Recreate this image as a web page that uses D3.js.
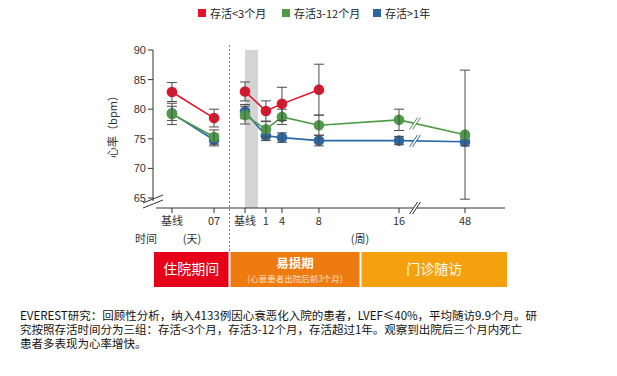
<!DOCTYPE html>
<html>
<head>
<meta charset="utf-8">
<script src="https://cdn.jsdelivr.net/npm/d3@7"></script>
<style>
  body { margin: 0; background: #fff; }
  svg { display: block; font-family: "Noto Sans CJK SC", "Noto Sans", sans-serif; }
</style>
</head>
<body>
<svg id="chart" width="617" height="376"></svg>
<script>
// ── Data ──────────────────────────────────────────────────────────────────────
const dayLabels  = ['基线', '07'];
const weekTicks  = [0, 1, 4, 8, 16, 48];
const weekLabels = ['基线', '1', '4', '8', '16', '48'];
const yTicks     = [65, 70, 75, 80, 85, 90];

// hospital stay (days)
const redDay    = [82.9, 78.5];   const redDayErr   = [1.6, 1.5];
const greenDay  = [79.2, 75.3];   const greenDayErr = [1.8, 1.2];
const blueDay   = [79.3, 74.8];   const blueDayErr  = [1.2, 1.0];

// follow-up (weeks)
const redWeek   = [83.0, 79.7, 80.9, 83.3];
const redWeekErr   = [1.6, 1.7, 2.8, 4.3];
const greenWeek = [79.0, 76.6, 78.7, 77.3, 78.2, 75.7];
const greenWeekErr = [1.5, 1.3, 1.3, 1.7, 1.8, 10.9];
const blueWeek  = [79.6, 75.5, 75.2, 74.7, 74.7, 74.5];
const blueWeekErr  = [1.2, 0.8, 0.8, 0.9, 0.7, 0.7];

const seriesNames = ['存活<3个月', '存活3-12个月', '存活>1年'];
const phaseNames  = ['住院期间', '易损期', '门诊随访'];
const phaseSub    = '(心衰患者出院后前3个月)';
const noteLines = [
  'EVEREST研究：回顾性分析，纳入4133例因心衰恶化入院的患者，LVEF≤40%，平均随访9.9个月。研',
  '究按照存活时间分为三组：存活<3个月，存活3-12个月，存活超过1年。观察到出院后三个月内死亡',
  '患者多表现为心率增快。'
];

// ── Styles ────────────────────────────────────────────────────────────────────
const COLORS = { red: '#e5132a', green: '#4f9a48', blue: '#2b68a3' };
const ERR = '#4d4d4d';
const AXIS = '#333';

const svg = d3.select('#chart');

// ── Scales ────────────────────────────────────────────────────────────────────
const y = d3.scaleLinear().domain([65, 90]).range([198, 50]);
const axisY = 208, axisX = 153;

const xDay = d3.scalePoint().domain(dayLabels).range([153, 233]).padding(0.45);

// follow-up axis is hand-spaced in the source; piecewise scale keeps that spacing
const wx0 = 245, wx1 = 465;
const weekFrac = [0, 0.095, 0.168, 0.336, 0.70, 1];
const xWeek = d3.scaleLinear().domain(weekTicks)
  .range(weekFrac.map(f => wx0 + f * (wx1 - wx0)));

// ── Legend ────────────────────────────────────────────────────────────────────
const legendX = [198, 282, 373];
[COLORS.red, COLORS.green, COLORS.blue].forEach((c, i) => {
  svg.append('rect').attr('x', legendX[i]).attr('y', 9).attr('width', 8).attr('height', 8).attr('fill', c);
  svg.append('text').attr('x', legendX[i] + 12).attr('y', 17.5)
    .attr('font-size', 11).attr('fill', '#222').text(seriesNames[i]);
});

// ── Gray band at discharge baseline ───────────────────────────────────────────
svg.append('rect')
  .attr('x', xWeek(0)).attr('y', y(90))
  .attr('width', xWeek(0.62) - xWeek(0)).attr('height', axisY - y(90))
  .attr('fill', '#d4d4d4');

// ── Axes ──────────────────────────────────────────────────────────────────────
const gy = svg.append('g');
gy.append('line').attr('x1', axisX).attr('x2', axisX).attr('y1', y(90)).attr('y2', 201)
  .attr('stroke', AXIS);
yTicks.forEach(t => {
  gy.append('line').attr('x1', axisX - 5).attr('x2', axisX).attr('y1', y(t)).attr('y2', y(t)).attr('stroke', AXIS);
  gy.append('text').attr('x', axisX - 7).attr('y', y(t) + 4).attr('text-anchor', 'end')
    .attr('font-size', 11).attr('fill', '#333').attr('font-family', 'Arial, "Liberation Sans", sans-serif').text(t);
});
// y-axis break
[0, 5].forEach(dy => {
  gy.append('line').attr('x1', 143).attr('y1', 203 + dy).attr('x2', 163).attr('y2', 195 + dy)
    .attr('stroke', AXIS);
});
svg.append('text')
  .attr('transform', `translate(117,${y(77.5)}) rotate(-90)`)
  .attr('text-anchor', 'middle').attr('font-size', 11).attr('fill', '#333')
  .text('心率（bpm）');

svg.append('line').attr('x1', 156).attr('x2', 505).attr('y1', axisY).attr('y2', axisY).attr('stroke', AXIS);

function tick(x, label) {
  svg.append('line').attr('x1', x).attr('x2', x).attr('y1', axisY).attr('y2', axisY + 5).attr('stroke', AXIS);
  svg.append('text').attr('x', x).attr('y', axisY + 17).attr('text-anchor', 'middle')
    .attr('font-size', 11).attr('fill', '#333').text(label);
}
dayLabels.forEach(d => tick(xDay(d), d));
weekTicks.forEach((w, i) => tick(xWeek(w), weekLabels[i]));

svg.append('text').attr('x', 146).attr('y', 243).attr('text-anchor', 'middle')
  .attr('font-size', 11).attr('fill', '#333').text('时间');
svg.append('text').attr('x', 192).attr('y', 243).attr('text-anchor', 'middle')
  .attr('font-size', 11).attr('fill', '#333').text('(天)');
svg.append('text').attr('x', 360).attr('y', 243).attr('text-anchor', 'middle')
  .attr('font-size', 11).attr('fill', '#333').text('(周)');

// dashed separator between stay and follow-up
svg.append('line').attr('x1', 229.5).attr('x2', 229.5).attr('y1', 45).attr('y2', 252)
  .attr('stroke', '#666').attr('stroke-width', 0.8).attr('stroke-dasharray', '2,2');

// ── Series ────────────────────────────────────────────────────────────────────
function drawSeries(xs, vals, errs, color) {
  const pts = vals.map((v, i) => ({ x: xs[i], v, e: errs[i] }));
  svg.append('path').datum(pts)
    .attr('fill', 'none').attr('stroke', color).attr('stroke-width', 1.6)
    .attr('d', d3.line().x(d => d.x).y(d => y(d.v)));
  svg.append('g').selectAll('circle').data(pts).join('circle')
    .attr('cx', d => d.x).attr('cy', d => y(d.v)).attr('r', 5.3).attr('fill', color);
  const eg = svg.append('g').attr('stroke', ERR).attr('stroke-width', 1);
  pts.forEach(d => {
    eg.append('line').attr('x1', d.x).attr('x2', d.x).attr('y1', y(d.v + d.e)).attr('y2', y(d.v - d.e));
    [d.v + d.e, d.v - d.e].forEach(v =>
      eg.append('line').attr('x1', d.x - 5).attr('x2', d.x + 5).attr('y1', y(v)).attr('y2', y(v)));
  });
}

const dayX = dayLabels.map(d => xDay(d));
const wkX  = weekTicks.map(w => xWeek(w));

drawSeries(dayX, blueDay, blueDayErr, COLORS.blue);
drawSeries(dayX, greenDay, greenDayErr, COLORS.green);
drawSeries(dayX, redDay, redDayErr, COLORS.red);
drawSeries(wkX, blueWeek, blueWeekErr, COLORS.blue);
drawSeries(wkX, greenWeek, greenWeekErr, COLORS.green);
drawSeries(wkX.slice(0, redWeek.length), redWeek, redWeekErr, COLORS.red);

// ── Breaks between week 16 and 48 ─────────────────────────────────────────────
const breakX = xWeek(24);
function breakMark(cy, color) {
  svg.append('polygon')
    .attr('points', `${breakX - 6},${cy + 6} ${breakX + 2},${cy - 6} ${breakX + 5},${cy - 6} ${breakX - 3},${cy + 6}`)
    .attr('fill', '#fff');
  [0, 3].forEach(o => svg.append('line')
    .attr('x1', breakX - 6 + o).attr('y1', cy + 6).attr('x2', breakX + 2 + o).attr('y2', cy - 6)
    .attr('stroke', color).attr('stroke-width', 1));
}
const lerp = (a, b, t) => a + (b - a) * t;
const bt = (24 - 16) / (48 - 16);
breakMark(y(lerp(greenWeek[4], greenWeek[5], bt)), COLORS.green);
breakMark(y(lerp(blueWeek[4], blueWeek[5], bt)), COLORS.blue);
breakMark(axisY, AXIS);

// ── Phase bands ───────────────────────────────────────────────────────────────
const bands = [
  { x0: 154, x1: 228.5, color: '#e60019' },
  { x0: 230.5, x1: 359.5, color: '#ee7b10' },
  { x0: 361.5, x1: 507, color: '#f5a00f' },
];
bands.forEach((b, i) => {
  svg.append('rect').attr('x', b.x0).attr('y', 252).attr('width', b.x1 - b.x0).attr('height', 35)
    .attr('fill', b.color);
  const cx = (b.x0 + b.x1) / 2;
  if (i === 1) {
    svg.append('text').attr('x', cx).attr('y', 268).attr('text-anchor', 'middle')
      .attr('font-size', 12.5).attr('font-weight', 'bold').attr('fill', '#fff').text(phaseNames[i]);
    svg.append('text').attr('x', cx).attr('y', 282).attr('text-anchor', 'middle')
      .attr('font-size', 8.5).attr('fill', '#fde3c8').text(phaseSub);
  } else {
    svg.append('text').attr('x', cx).attr('y', 274).attr('text-anchor', 'middle')
      .attr('font-size', 14).attr('fill', '#fff').text(phaseNames[i]);
  }
});

// ── Footnote ──────────────────────────────────────────────────────────────────
const note = svg.append('text').attr('x', 20).attr('y', 320).attr('font-size', 11.5).attr('fill', '#111');
noteLines.forEach((t, i) => note.append('tspan').attr('x', 20).attr('dy', i === 0 ? 0 : 14).text(t));
</script>
</body>
</html>
